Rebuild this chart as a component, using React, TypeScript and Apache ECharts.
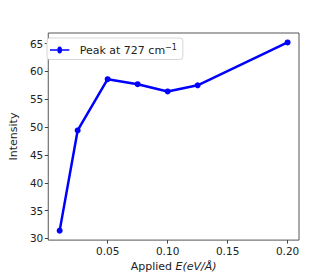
import React, { useEffect, useRef } from "react";
import * as echarts from "echarts";

const fieldValues = [0.01, 0.025, 0.05, 0.075, 0.1, 0.125, 0.2];
const intensityValues = [31.4, 49.4, 58.6, 57.7, 56.4, 57.5, 65.2];
const xTicks = [0.05, 0.1, 0.15, 0.2];
const yTicks = [30, 35, 40, 45, 50, 55, 60, 65];
const seriesName = "Peak at 727 cm";

export default function App() {
  const ref = useRef<HTMLDivElement>(null);
  useEffect(() => {
    if (!ref.current) return;
    const chart = echarts.init(ref.current, null, { renderer: "svg" });
    const font = "DejaVu Sans";
    chart.setOption({
      animation: false,
      backgroundColor: "#ffffff",
      grid: { left: 42, right: 33, top: 33, bottom: 31, show: true, borderColor: "#555", borderWidth: 1, backgroundColor: "transparent" },
      legend: {
        show: true,
        left: 47,
        top: 38,
        orient: "vertical",
        padding: [5, 6, 4, 3],
        backgroundColor: "#fff",
        borderColor: "#d6d6d6",
        borderWidth: 1,
        borderRadius: 3,
        itemWidth: 24,
        itemHeight: 7,
        itemGap: 4,
        data: [{ name: seriesName, icon: "path://M0,2.2 L9.3,2.2 A2.8,2.8 0 1 1 14.7,2.2 L24,2.2 L24,3.8 L14.7,3.8 A2.8,2.8 0 1 1 9.3,3.8 L0,3.8 Z" }],
        formatter: (n: string) => n + "{sup|−1}",
        textStyle: {
          fontFamily: font,
          fontSize: 11,
          color: "#222",
          padding: [0, 0, 0, 3],
          rich: { sup: { fontFamily: font, fontSize: 8, color: "#222", verticalAlign: "top", padding: [0, 0, 6, 0] } },
        },
      },
      xAxis: {
        type: "value",
        min: 0.0005,
        max: 0.2095,
        name: "Applied {i|E(eV/Å)}",
        nameLocation: "middle",
        nameGap: 20,
        nameTextStyle: {
          fontFamily: font,
          fontSize: 11,
          color: "#222",
          rich: { i: { fontFamily: font, fontStyle: "italic", fontSize: 11, color: "#222" } },
        },
        axisLine: { show: false },
        splitLine: { show: false },
        axisTick: { show: true, length: 3.5, inside: false, customValues: xTicks, lineStyle: { color: "#444" } },
        axisLabel: {
          customValues: xTicks,
          formatter: (v: number) => v.toFixed(2),
          fontFamily: font,
          fontSize: 10.5,
          color: "#222",
          margin: 5,
        },
      },
      yAxis: {
        type: "value",
        min: 29.7,
        max: 66.9,
        name: "Intensity",
        nameLocation: "middle",
        nameGap: 25,
        nameRotate: 90,
        nameTextStyle: { fontFamily: font, fontSize: 11, color: "#222" },
        axisLine: { show: false },
        splitLine: { show: false },
        axisTick: { show: true, length: 3.5, customValues: yTicks, lineStyle: { color: "#444" } },
        axisLabel: {
          customValues: yTicks,
          fontFamily: font,
          fontSize: 10.5,
          color: "#222",
          margin: 5,
        },
      },
      series: [
        {
          name: seriesName,
          type: "line",
          data: fieldValues.map((x, i) => [x, intensityValues[i]]),
          symbol: "circle",
          symbolSize: 6,
          itemStyle: { color: "#0000ff" },
          lineStyle: { color: "#0000ff", width: 2.5 },
        },
      ],
    });
    return () => chart.dispose();
  }, []);
  return <div ref={ref} style={{ position: "fixed", left: 0, top: 0, width: 332, height: 277 }} />;
}
